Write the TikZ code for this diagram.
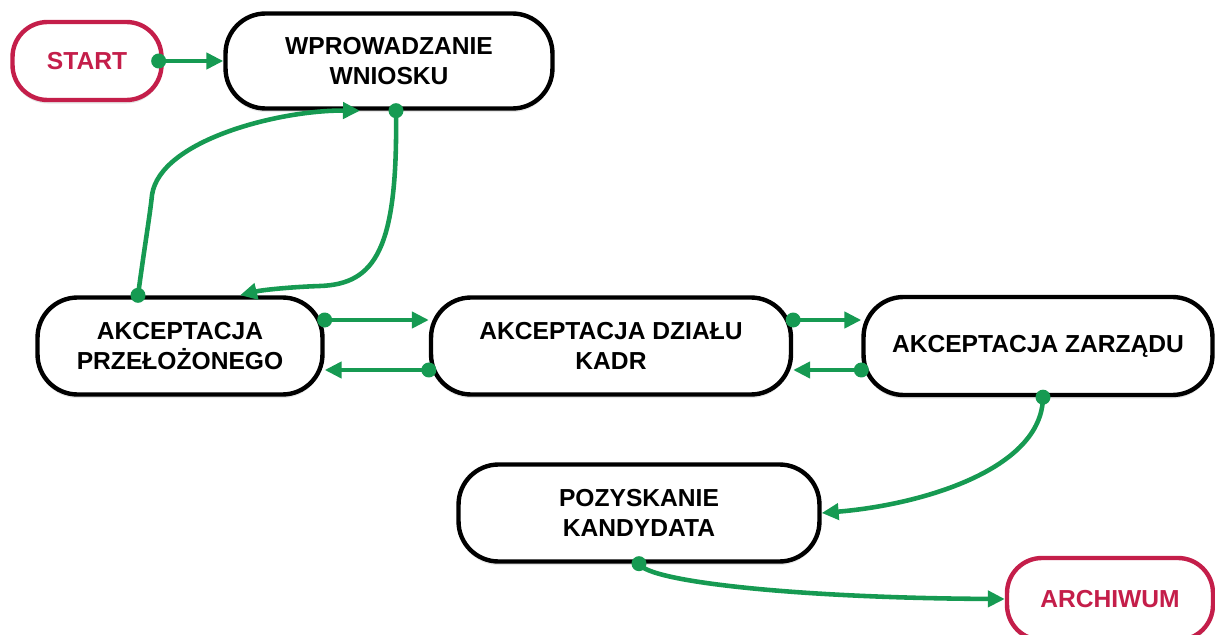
\documentclass[tikz,border=0pt]{standalone}
\usepackage{fontspec}
\setmainfont{Liberation Sans}
\usepackage{tikz}
\usetikzlibrary{arrows.meta}
\usetikzlibrary{shapes, shadows}

\definecolor{flowgreen}{HTML}{169A52}
\definecolor{endred}{HTML}{C41E4A}

\begin{document}
\begin{tikzpicture}[x=0.02cm, y=-0.02cm,
  box/.style={draw=black, line width=2.5pt, rounded corners=0.8cm, fill=white, align=center,
    font=\fontsize{14pt}{17pt}\selectfont\bfseries, minimum height=1.9cm,
    drop shadow={opacity=0.2, shadow xshift=0pt, shadow yshift=-2pt}},
  term/.style={box, draw=endred, text=endred, rounded corners=0.7cm, minimum height=1.56cm},
  flow/.style={draw=flowgreen, line width=2.6pt, -{Triangle[length=0.34cm, width=0.32cm]}},
  dot/.style={circle, fill=flowgreen, inner sep=0pt, minimum size=0.3cm}]
\useasboundingbox (0,0) rectangle (1215,635);

\node (start)[term, minimum width=2.98cm] at (87,61) {START};
\node (wniosek)[box, minimum width=6.54cm] at (389,61) {WPROWADZANIE\\WNIOSKU};
\node (przelozony)[box, minimum width=5.7cm, minimum height=1.94cm] at (180,346) {AKCEPTACJA\\PRZEŁOŻONEGO};
\node (kadry)[box, minimum width=7.2cm, minimum height=1.94cm] at (611,346) {AKCEPTACJA DZIAŁU\\KADR};
\node (zarzad)[box, minimum width=6.98cm, minimum height=1.96cm] at (1038,346) {AKCEPTACJA ZARZĄDU};
\node (pozyskanie)[box, minimum width=7.22cm, minimum height=1.94cm] at (639,513) {POZYSKANIE\\KANDYDATA};
\node (archiwum)[term, minimum width=4.12cm, minimum height=1.64cm] at (1110,599) {ARCHIWUM};

\draw[flow] ([xshift=-0.1cm]start.east) node[dot]{} -- (wniosek.west);
\draw[flow] ([xshift=0.14cm]wniosek.south) node[dot]{} .. controls (398,250) and (375,284) .. (320,286) .. controls (290,287) and (262,290) .. ([xshift=1.2cm]przelozony.north);
\draw[flow] ([xshift=-0.84cm]przelozony.north) node[dot]{} .. controls (144,250) and (150,215) .. (152,195) .. controls (160,140) and (280,110) .. ([xshift=-0.58cm]wniosek.south);
\draw[flow] ([yshift=0.52cm]przelozony.east) node[dot]{} -- ([yshift=0.52cm]kadry.west);
\draw[flow] ([yshift=-0.48cm]kadry.west) node[dot]{} -- ([yshift=-0.48cm]przelozony.east);
\draw[flow] ([yshift=0.52cm]kadry.east) node[dot]{} -- ([yshift=0.52cm]zarzad.west);
\draw[flow] ([yshift=-0.48cm]zarzad.west) node[dot]{} -- ([yshift=-0.48cm]kadry.east);
\draw[flow] ([xshift=0.1cm]zarzad.south) node[dot]{} .. controls (1042,470) and (920,505) .. (pozyskanie.east);
\draw[flow] (pozyskanie.south) node[dot]{} .. controls (648,582) and (800,598) .. (archiwum.west);
\end{tikzpicture}
\end{document}
